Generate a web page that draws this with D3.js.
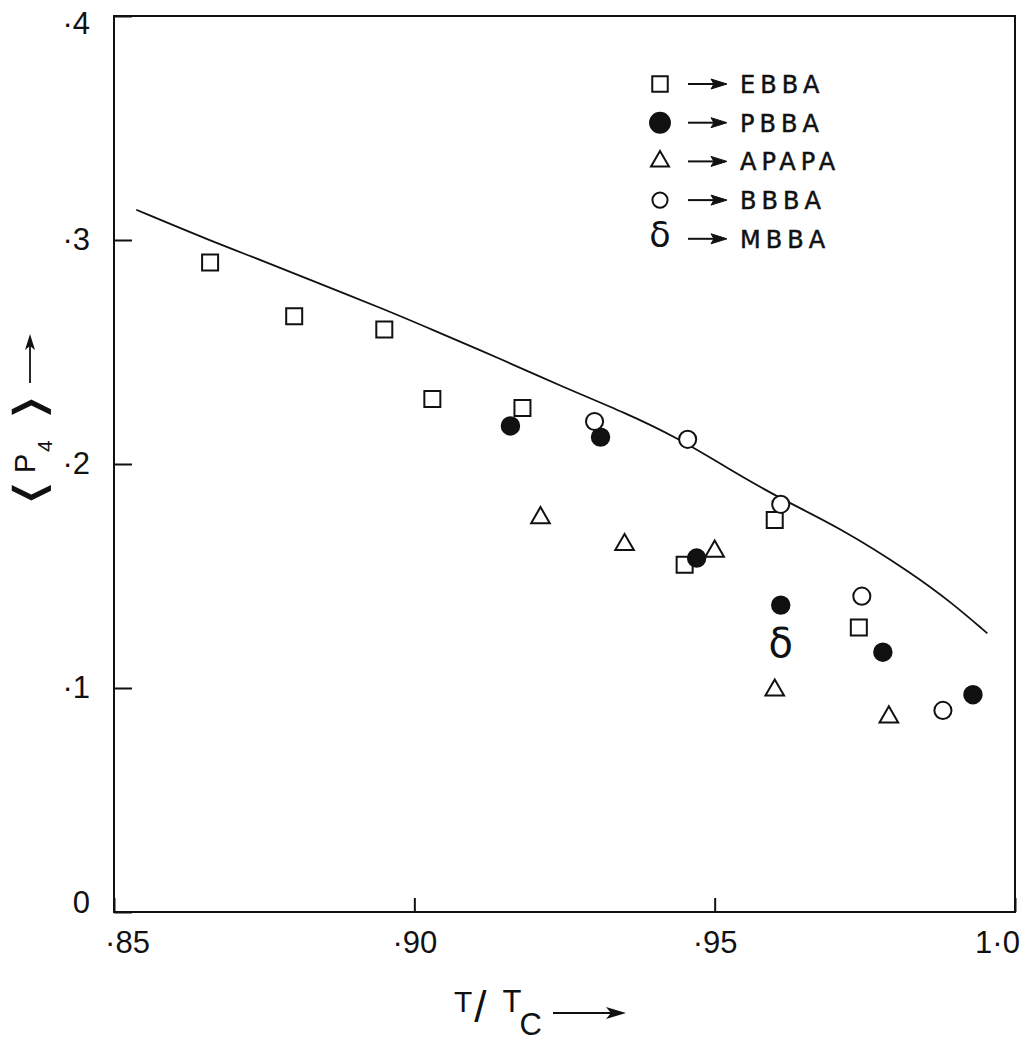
<!DOCTYPE html>
<html>
<head>
<meta charset="utf-8">
<script src="https://cdn.jsdelivr.net/npm/d3@7"></script>
<style>
  body { margin: 0; background: #fff; }
</style>
</head>
<body>
<div id="chart"></div>
<script>
// values: <P4> against reduced temperature T/Tc
const ebbaT = [0.866, 0.880, 0.895, 0.903, 0.918, 0.945, 0.960, 0.974];
const ebbaP = [0.290, 0.266, 0.260, 0.229, 0.225, 0.155, 0.175, 0.127];

const pbbaT = [0.916, 0.931, 0.947, 0.961, 0.978, 0.993];
const pbbaP = [0.217, 0.212, 0.158, 0.137, 0.116, 0.097];

const apapaT = [0.921, 0.935, 0.950, 0.960, 0.979];
const apapaP = [0.176, 0.164, 0.161, 0.099, 0.087];

const bbbaT = [0.930, 0.9455, 0.961, 0.9745, 0.988];
const bbbaP = [0.219, 0.211, 0.182, 0.141, 0.090];

const mbbaT = [0.961];
const mbbaP = [0.120];

// theoretical curve
const curveT = [0.8537, 0.866, 0.8748, 0.8838, 0.8948, 0.9026, 0.9142, 0.9242, 0.9354, 0.9437, 0.952, 0.9608, 0.9708, 0.9829, 0.9896, 0.9954];
const curveP = [0.3135, 0.2997, 0.2907, 0.2809, 0.2693, 0.2604, 0.2471, 0.235, 0.2225, 0.2118, 0.1984, 0.1846, 0.1717, 0.1512, 0.1378, 0.1244];

const xTicks = [0.85, 0.90, 0.95, 1.0];
const xTickLabels = ["·85", "·90", "·95", "1·0"];
const yTicks = [0, 0.1, 0.2, 0.3, 0.4];
const yTickLabels = ["0", "·1", "·2", "·3", "·4"];

const legendNames = ["EBBA", "PBBA", "APAPA", "BBBA", "MBBA"];

const width = 1021, height = 1043;
const ink = "#111";

const svg = d3.select("#chart")
    .append("svg")
    .attr("width", width)
    .attr("height", height);

const x = d3.scaleLinear().domain([0.85, 1.0]).range([114, 1015]);
const y = d3.scaleLinear().domain([0, 0.4]).range([912, 16]);

// frame
svg.append("rect")
    .attr("x", x(0.85))
    .attr("y", y(0.4))
    .attr("width", x(1.0) - x(0.85))
    .attr("height", y(0) - y(0.4))
    .attr("fill", "none")
    .attr("stroke", ink)
    .attr("stroke-width", 2);

// axes, ticks pointing inward
const xAxis = svg.append("g")
    .attr("transform", `translate(0,${y(0)})`)
    .call(d3.axisBottom(x)
        .tickValues(xTicks)
        .tickSize(-14)
        .tickPadding(19)
        .tickFormat((d, i) => xTickLabels[i]));

const yAxis = svg.append("g")
    .attr("transform", `translate(${x(0.85)},0)`)
    .call(d3.axisLeft(y)
        .tickValues(yTicks)
        .tickSize(-18)
        .tickPadding(24)
        .tickFormat((d, i) => yTickLabels[i]));

[xAxis, yAxis].forEach(g => {
    g.select(".domain").remove();
    g.selectAll(".tick line").attr("stroke", ink).attr("stroke-width", 2);
    g.selectAll(".tick text")
        .attr("fill", ink)
        .style("font-family", "'Liberation Sans', Arial, sans-serif")
        .style("font-size", "31px");
});
// end labels sit inside the frame corners
xAxis.selectAll(".tick text")
    .attr("dx", (d, i) => i === 0 ? 13 : (i === xTicks.length - 1 ? -18 : 0));
yAxis.selectAll(".tick text")
    .attr("dy", (d, i) => i === 0 ? "0em" : (i === yTicks.length - 1 ? "0.55em" : "0.32em"));

// curve
const line = d3.line()
    .x(d => x(d[0]))
    .y(d => y(d[1]))
    .curve(d3.curveBasis);

svg.append("path")
    .datum(curveT.map((t, i) => [t, curveP[i]]))
    .attr("d", line)
    .attr("fill", "none")
    .attr("stroke", ink)
    .attr("stroke-width", 1.8);

// markers
const pts = (ts, ps) => ts.map((t, i) => [t, ps[i]]);
const sym = (type, size) => d3.symbol().type(type).size(size)();

function drawSymbols(data, type, size, filled) {
    svg.append("g")
        .selectAll("path")
        .data(data)
        .join("path")
        .attr("transform", d => `translate(${x(d[0])},${y(d[1])})`)
        .attr("d", sym(type, size))
        .attr("fill", filled ? ink : "#fff")
        .attr("stroke", ink)
        .attr("stroke-width", 2);
}

drawSymbols(pts(apapaT, apapaP), d3.symbolTriangle, 150, false);
drawSymbols(pts(ebbaT, ebbaP), d3.symbolSquare, 256, false);
drawSymbols(pts(pbbaT, pbbaP), d3.symbolCircle, 240, true);
drawSymbols(pts(bbbaT, bbbaP), d3.symbolCircle, 230, false);

svg.append("g")
    .selectAll("text")
    .data(pts(mbbaT, mbbaP))
    .join("text")
    .attr("x", d => x(d[0]))
    .attr("y", d => y(d[1]))
    .attr("text-anchor", "middle")
    .attr("dominant-baseline", "central")
    .attr("fill", ink)
    .style("font-family", "'DejaVu Sans', sans-serif")
    .style("font-size", "40px")
    .text("δ");

// legend
const legend = svg.append("g").attr("transform", "translate(660,84)");
const rowH = 38.7;
const legendMarks = [
    { type: d3.symbolSquare, size: 240, filled: false },
    { type: d3.symbolCircle, size: 310, filled: true },
    { type: d3.symbolTriangle, size: 140, filled: false },
    { type: d3.symbolCircle, size: 180, filled: false },
    { type: null }
];

legendNames.forEach((name, i) => {
    const row = legend.append("g").attr("transform", `translate(0,${i * rowH})`);
    const m = legendMarks[i];
    if (m.type) {
        row.append("path")
            .attr("d", sym(m.type, m.size))
            .attr("fill", m.filled ? ink : "#fff")
            .attr("stroke", ink)
            .attr("stroke-width", 2);
    } else {
        row.append("text")
            .attr("text-anchor", "middle")
            .attr("dominant-baseline", "central")
            .attr("y", -4)
            .attr("fill", ink)
            .style("font-family", "'DejaVu Sans', sans-serif")
            .style("font-size", "35px")
            .text("δ");
    }
    row.append("line")
        .attr("x1", 28).attr("x2", 56)
        .attr("stroke", ink).attr("stroke-width", 2);
    row.append("path")
        .attr("d", "M51,-5L67,0L51,5L54,0Z")
        .attr("fill", ink)
        .attr("stroke", ink)
        .attr("stroke-width", 1);
    row.append("text")
        .attr("x", 80)
        .attr("y", 9)
        .attr("fill", ink)
        .attr("stroke", ink)
        .attr("stroke-width", 0.5)
        .style("font-family", "'DejaVu Sans', sans-serif")
        .style("font-size", "24px")
        .style("letter-spacing", "5px")
        .text(name);
});

// x title: T/ Tc ->
const xTitle = svg.append("text")
    .attr("x", 454)
    .attr("y", 1012)
    .attr("fill", ink)
    .style("font-family", "'Liberation Sans', Arial, sans-serif")
    .style("font-size", "30px");
xTitle.append("tspan").text("T");
xTitle.append("tspan").text("/").style("font-size", "44px").attr("dy", 10).attr("dx", 2);
xTitle.append("tspan").text("T").attr("dy", -10).attr("dx", 16).style("font-size", "31px");
xTitle.append("tspan").text("C").attr("dy", 23).attr("dx", -2).style("font-size", "31px");

svg.append("line")
    .attr("x1", 553).attr("x2", 618)
    .attr("y1", 1013).attr("y2", 1013)
    .attr("stroke", ink).attr("stroke-width", 1.8);
svg.append("path")
    .attr("d", "M606,1007L626,1013L606,1019L611,1013Z")
    .attr("fill", ink);

// y title: <P4> with upward arrow, written along the axis
const yTitle = svg.append("g")
    .attr("transform", "translate(35,0) rotate(-90)")
    .attr("fill", ink);
yTitle.append("text")
    .attr("transform", "translate(-493,-5) scale(1.6,1)")
    .attr("text-anchor", "middle")
    .attr("dominant-baseline", "central")
    .style("font-family", "'DejaVu Sans', sans-serif")
    .style("font-size", "44px")
    .text("⟨");
yTitle.append("text")
    .attr("x", -473)
    .style("font-family", "'Liberation Sans', Arial, sans-serif")
    .style("font-size", "29px")
    .text("P");
yTitle.append("text")
    .attr("x", -452)
    .attr("y", 17)
    .style("font-family", "'Liberation Sans', Arial, sans-serif")
    .style("font-size", "21px")
    .text("4");
yTitle.append("text")
    .attr("transform", "translate(-407,-5) scale(1.6,1)")
    .attr("text-anchor", "middle")
    .attr("dominant-baseline", "central")
    .style("font-family", "'DejaVu Sans', sans-serif")
    .style("font-size", "44px")
    .text("⟩");

svg.append("line")
    .attr("x1", 30).attr("x2", 30)
    .attr("y1", 383).attr("y2", 345)
    .attr("stroke", ink).attr("stroke-width", 1.8);
svg.append("path")
    .attr("d", "M25,350L30,334L35,350L30,346Z")
    .attr("fill", ink);
</script>
</body>
</html>
